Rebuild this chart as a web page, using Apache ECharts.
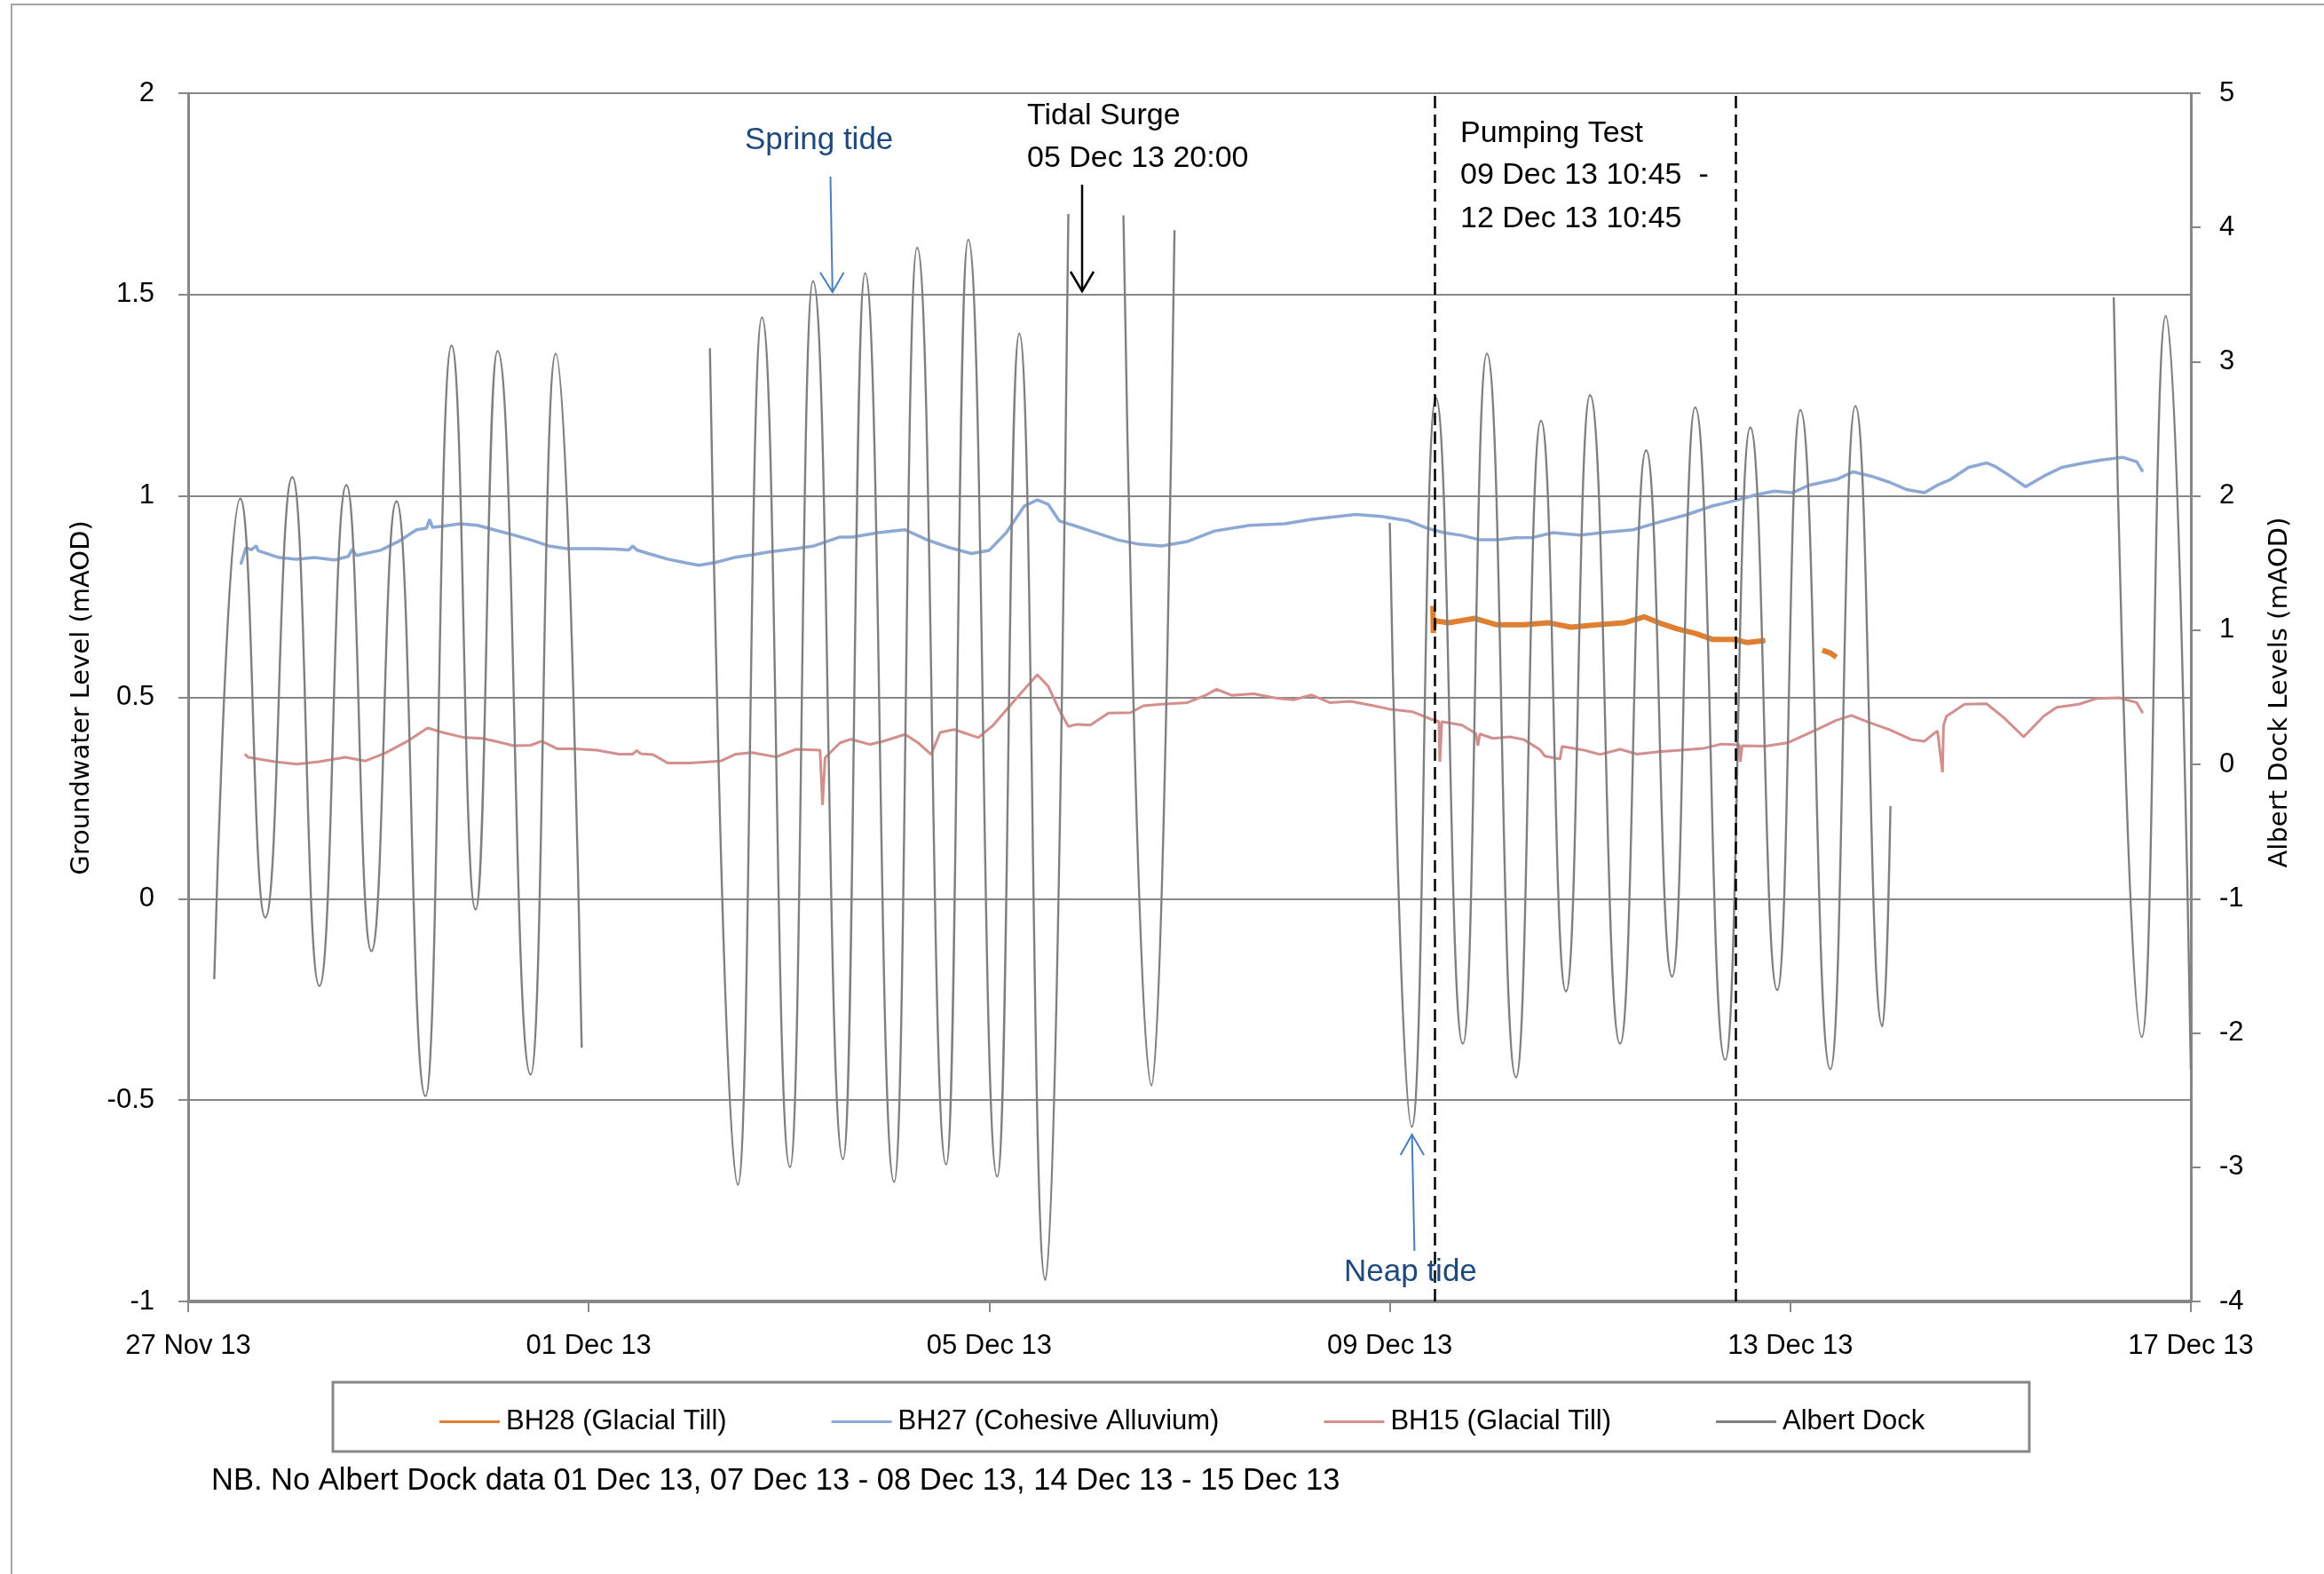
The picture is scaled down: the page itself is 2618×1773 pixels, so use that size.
<!DOCTYPE html>
<html>
<head>
<meta charset="utf-8">
<script src="https://cdn.jsdelivr.net/npm/echarts@6/dist/echarts.min.js"></script>
<style>html,body{margin:0;padding:0;background:#fff}#c{width:2618px;height:1773px}</style>
</head>
<body>
<div id="c"></div>
<script>
// ---- Data (x = days since 27 Nov 13 00:00) ----
const xTickLabels = ['27 Nov 13', '01 Dec 13', '05 Dec 13', '09 Dec 13', '13 Dec 13', '17 Dec 13'];
const seriesNames = ['BH28 (Glacial Till)', 'BH27 (Cohesive Alluvium)', 'BH15 (Glacial Till)', 'Albert Dock'];
const pumpingTest = [12.4479, 15.4479];

// Albert Dock tidal levels (right axis), turning points; null = no data
const albertDock = [
  [0.26,-1.6],[0.52,1.98],[0.77,-1.14],[1.04,2.14],[1.31,-1.65],[1.58,2.08],[1.83,-1.39],[2.08,1.96],
  [2.37,-2.47],[2.63,3.12],[2.87,-1.08],[3.09,3.08],[3.42,-2.31],[3.67,3.06],[3.93,-2.11],
  [4.5,null],
  [5.21,3.10],[5.49,-3.13],[5.73,3.33],[6.01,-3.0],[6.24,3.60],[6.54,-2.94],[6.76,3.66],[7.05,-3.11],
  [7.28,3.85],[7.57,-2.98],[7.79,3.91],[8.08,-3.07],[8.30,3.21],[8.56,-3.84],[8.79,4.10],
  [9.0,null],
  [9.34,4.09],[9.62,-2.39],[9.85,3.98],
  [11.0,null],
  [12.0,1.80],[12.22,-2.70],[12.46,2.73],[12.73,-2.08],[12.97,3.06],[13.26,-2.33],[13.51,2.56],[13.76,-1.69],
  [14.00,2.75],[14.30,-2.08],[14.56,2.34],[14.82,-1.58],[15.05,2.66],[15.35,-2.20],[15.60,2.51],[15.87,-1.68],
  [16.10,2.64],[16.40,-2.27],[16.65,2.67],[16.92,-1.95],[17.0,-0.31],
  [18.0,null],
  [19.23,3.48],[19.51,-2.03],[19.75,3.34],[20.0,-2.27]
];

const bh27 = [
  [0.525,0.83],[0.578,0.872],[0.63,0.866],[0.68,0.876],[0.70,0.864],[0.908,0.847],[1.085,0.843],[1.26,0.847],
  [1.46,0.841],[1.60,0.85],[1.64,0.868],[1.68,0.852],[1.75,0.856],[1.92,0.865],[2.10,0.887],[2.28,0.916],
  [2.38,0.92],[2.41,0.942],[2.44,0.922],[2.54,0.925],[2.72,0.931],[2.89,0.927],[3.07,0.915],[3.25,0.903],
  [3.42,0.891],[3.60,0.876],[3.78,0.869],[4.08,0.869],[4.26,0.868],[4.40,0.866],[4.44,0.876],[4.48,0.866],
  [4.61,0.856],[4.79,0.843],[4.97,0.834],[5.10,0.828],[5.27,0.835],[5.45,0.847],[5.63,0.854],[5.80,0.861],
  [6.07,0.869],[6.25,0.876],[6.51,0.898],[6.63,0.898],[6.89,0.909],[7.16,0.916],[7.38,0.891],[7.60,0.872],
  [7.82,0.857],[8.00,0.865],[8.17,0.909],[8.35,0.975],[8.48,0.99],[8.59,0.979],[8.70,0.938],[8.84,0.927],
  [9.06,0.909],[9.28,0.891],[9.50,0.88],[9.72,0.876],[9.98,0.887],[10.25,0.913],[10.60,0.927],[10.95,0.931],
  [11.22,0.942],[11.48,0.949],[11.66,0.954],[11.92,0.949],[12.19,0.938],[12.37,0.92],[12.54,0.909],[12.72,0.902],
  [12.90,0.891],[13.07,0.891],[13.25,0.896],[13.43,0.897],[13.63,0.909],[13.90,0.903],[14.16,0.91],[14.43,0.916],
  [14.69,0.935],[14.96,0.953],[15.22,0.975],[15.44,0.988],[15.66,1.003],[15.84,1.012],[16.02,1.008],[16.19,1.027],
  [16.46,1.041],[16.63,1.06],[16.81,1.049],[16.99,1.034],[17.16,1.016],[17.34,1.008],[17.47,1.027],[17.60,1.041],
  [17.78,1.071],[17.96,1.082],[18.04,1.074],[18.18,1.052],[18.35,1.023],[18.53,1.049],[18.71,1.071],[18.93,1.082],
  [19.10,1.089],[19.32,1.096],[19.46,1.085],[19.52,1.06]
];

const bh15 = [
  [0.565,0.359],[0.60,0.351],[0.864,0.34],[1.085,0.334],[1.305,0.34],[1.57,0.351],[1.77,0.342],[1.97,0.362],
  [2.19,0.391],[2.39,0.424],[2.54,0.413],[2.76,0.40],[2.94,0.398],[3.07,0.391],[3.25,0.38],[3.42,0.381],
  [3.53,0.391],[3.69,0.372],[3.86,0.372],[4.08,0.369],[4.30,0.359],[4.44,0.359],[4.48,0.368],[4.52,0.360],
  [4.64,0.358],[4.79,0.337],[5.01,0.337],[5.32,0.342],[5.47,0.359],[5.63,0.363],[5.87,0.352],[6.07,0.371],
  [6.31,0.369],[6.335,0.233],[6.36,0.35],[6.51,0.387],[6.62,0.396],[6.81,0.383],[6.94,0.391],[7.16,0.408],
  [7.29,0.387],[7.42,0.358],[7.51,0.413],[7.65,0.42],[7.89,0.40],[8.04,0.431],[8.22,0.483],[8.35,0.52],
  [8.48,0.556],[8.59,0.527],[8.70,0.468],[8.79,0.428],[8.88,0.433],[9.01,0.431],[9.19,0.461],[9.41,0.462],
  [9.54,0.479],[9.72,0.483],[9.98,0.487],[10.16,0.505],[10.27,0.52],[10.42,0.505],[10.64,0.509],[10.87,0.498],
  [11.04,0.494],[11.22,0.506],[11.40,0.487],[11.61,0.49],[11.84,0.479],[12.01,0.47],[12.23,0.464],[12.41,0.446],
  [12.49,0.44],[12.50,0.34],[12.52,0.44],[12.54,0.439],[12.72,0.431],[12.86,0.41],[12.88,0.38],[12.90,0.409],
  [13.03,0.398],[13.20,0.402],[13.34,0.395],[13.50,0.37],[13.55,0.354],[13.70,0.347],[13.72,0.378],[13.94,0.369],
  [14.10,0.358],[14.30,0.371],[14.47,0.359],[14.69,0.365],[14.91,0.369],[15.13,0.373],[15.31,0.384],[15.49,0.382],
  [15.50,0.34],[15.52,0.38],[15.75,0.379],[15.97,0.387],[16.24,0.417],[16.46,0.443],[16.61,0.455],[16.77,0.439],
  [16.99,0.42],[17.21,0.395],[17.34,0.391],[17.47,0.417],[17.52,0.314],[17.53,0.43],[17.56,0.453],[17.74,0.483],
  [17.96,0.484],[18.13,0.45],[18.33,0.402],[18.53,0.453],[18.66,0.475],[18.88,0.483],[19.06,0.497],[19.28,0.499],
  [19.46,0.487],[19.52,0.461]
];

const bh28 = [
  [12.43,0.727],[12.435,0.66],[12.445,0.69],[12.59,0.685],[12.85,0.696],[13.07,0.68],[13.34,0.68],[13.59,0.685],
  [13.81,0.674],[14.07,0.68],[14.34,0.685],[14.54,0.70],[14.69,0.685],[14.87,0.67],[15.05,0.659],[15.22,0.644],
  [15.44,0.644],[15.57,0.636],[15.75,0.641],
  [16.0,null],
  [16.32,0.617],[16.40,0.61],[16.46,0.60]
];

// ---- Styling ----
const FONT = "'Liberation Sans', Arial, sans-serif";
const GRID_GREY = '#878787';
const colors = { bh28: '#E07F31', bh27: '#8DA8D3', bh15: '#D38F8D', dock: '#7F7F7F' };

const chart = echarts.init(document.getElementById('c'), null, { renderer: 'canvas' });

function txt(x, y, text, size, color, extra) {
  return Object.assign({
    type: 'text', x: x, y: y, z: 100,
    style: {
      text: text, fill: color, font: size + 'px ' + FONT,
      textAlign: 'left', textVerticalAlign: 'middle', align: 'left', verticalAlign: 'middle'
    }
  }, extra || {});
}
function line(points, color, width) {
  return { type: 'polyline', z: 100, shape: { points: points }, style: { stroke: color, lineWidth: width, fill: null } };
}
function vtitle(x, y, text) {
  return {
    type: 'text', x: x, y: y, z: 100, rotation: Math.PI / 2,
    style: {
      text: text, fill: '#000', font: "29px 'DejaVu Sans', sans-serif",
      textAlign: 'center', textVerticalAlign: 'middle', align: 'center', verticalAlign: 'middle'
    }
  };
}

const option = {
  backgroundColor: '#fff',
  animation: false,
  grid: { left: 212, right: 150, top: 105, bottom: 307, containLabel: false },
  legend: {
    left: 490, top: 1581,
    data: seriesNames,
    icon: 'rect', itemWidth: 68, itemHeight: 3, itemGap: 118,
    textStyle: { fontSize: 31, color: '#000', fontFamily: FONT, padding: [0, 0, 0, 2] }
  },
  xAxis: {
    type: 'value', min: 0, max: 20, interval: 4,
    axisLine: { onZero: false, lineStyle: { color: GRID_GREY, width: 4 } },
    axisTick: { show: true, length: 12, lineStyle: { color: GRID_GREY, width: 2 } },
    splitLine: { show: false },
    axisLabel: {
      margin: 35, fontSize: 31, color: '#000', fontFamily: FONT,
      formatter: function (v) { return xTickLabels[Math.round(v / 4)]; }
    }
  },
  yAxis: [
    {
      type: 'value', min: -1, max: 2, interval: 0.5,
      axisLine: { show: true, lineStyle: { color: GRID_GREY, width: 3 } },
      axisTick: { show: true, length: 11, lineStyle: { color: GRID_GREY, width: 2 } },
      splitLine: { show: true, lineStyle: { color: GRID_GREY, width: 2 } },
      axisLabel: { margin: 38, fontSize: 31, color: '#000', fontFamily: FONT }
    },
    {
      type: 'value', min: -4, max: 5, interval: 1, position: 'right',
      axisLine: { show: true, lineStyle: { color: GRID_GREY, width: 3 } },
      axisTick: { show: true, length: 11, lineStyle: { color: GRID_GREY, width: 2 } },
      splitLine: { show: false },
      axisLabel: { margin: 32, fontSize: 31, color: '#000', fontFamily: FONT }
    }
  ],
  series: [
    {
      name: seriesNames[0], type: 'line', yAxisIndex: 0, data: bh28, showSymbol: false, symbol: 'none',
      color: colors.bh28, lineStyle: { color: colors.bh28, width: 6 }, connectNulls: false, z: 3,
      markLine: {
        silent: true, symbol: ['none', 'none'], label: { show: false }, z: 20,
        lineStyle: { color: '#000', type: [14, 7], width: 2.5 },
        emphasis: { disabled: true },
        data: pumpingTest.map(function (d) { return { xAxis: d }; })
      }
    },
    {
      name: seriesNames[1], type: 'line', yAxisIndex: 0, data: bh27, showSymbol: false, symbol: 'none',
      color: colors.bh27, lineStyle: { color: colors.bh27, width: 3.5 }, z: 2
    },
    {
      name: seriesNames[2], type: 'line', yAxisIndex: 0, data: bh15, showSymbol: false, symbol: 'none',
      color: colors.bh15, lineStyle: { color: colors.bh15, width: 3 }, z: 2
    },
    {
      name: seriesNames[3], type: 'line', yAxisIndex: 1, data: albertDock, showSymbol: false, symbol: 'none',
      color: colors.dock, lineStyle: { color: colors.dock, width: 2.4 }, connectNulls: false,
      smooth: 0.5, smoothMonotone: 'x', z: 4
    }
  ],
  graphic: [
    // chart-area frame (only top/left edges fall inside the picture)
    { type: 'rect', z: -1, shape: { x: 13, y: 5, width: 2700, height: 1900 }, style: { fill: null, stroke: '#A6A6A6', lineWidth: 2 } },
    // legend box
    { type: 'rect', z: 1, shape: { x: 375, y: 1557, width: 1911, height: 78 }, style: { fill: null, stroke: '#878787', lineWidth: 3 } },
    // axis titles
    vtitle(92, 786, 'Groundwater Level (mAOD)'),
    vtitle(2568, 780, 'Albert Dock Levels (mAOD)'),
    // annotations
    txt(839, 158, 'Spring tide', 35, '#1F497D'),
    line([[935.5, 199], [937.8, 329]], '#4A7EBB', 2),
    line([[924, 307], [937.8, 329], [950.5, 307]], '#4A7EBB', 2),
    txt(1157, 131, 'Tidal Surge', 34, '#000'),
    txt(1157, 179, '05 Dec 13 20:00', 34, '#000'),
    line([[1219, 208], [1219, 328]], '#000', 2.5),
    line([[1206, 306], [1219, 328], [1232, 306]], '#000', 2.5),
    txt(1645, 151, 'Pumping Test', 34, '#000'),
    txt(1645, 198, '09 Dec 13 10:45  -', 34, '#000'),
    txt(1645, 247, '12 Dec 13 10:45', 34, '#000'),
    txt(1514, 1433, 'Neap tide', 35, '#1F497D'),
    line([[1593.4, 1409], [1590.6, 1278]], '#4A7EBB', 2),
    line([[1577.7, 1301], [1590.6, 1278], [1604, 1301]], '#4A7EBB', 2),
    // note
    txt(238, 1668, 'NB. No Albert Dock data 01 Dec 13, 07 Dec 13 - 08 Dec 13, 14 Dec 13 - 15 Dec 13', 34.5, '#000')
  ]
};
chart.setOption(option);
</script>
</body>
</html>
